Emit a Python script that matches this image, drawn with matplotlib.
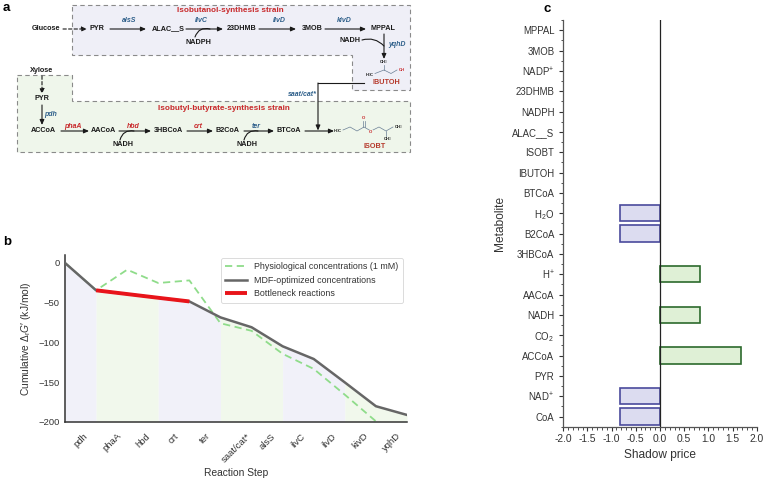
import numpy as np
import matplotlib
matplotlib.use('Agg')
import matplotlib.pyplot as plt
from matplotlib.patches import Polygon
from matplotlib.ticker import FixedLocator, MultipleLocator

plt.rcParams['font.family'] = ['Liberation Sans', 'DejaVu Sans']
plt.rcParams['mathtext.fontset'] = 'custom'
plt.rcParams['mathtext.rm'] = 'Liberation Sans'
plt.rcParams['mathtext.it'] = 'Liberation Sans:italic'
plt.rcParams['axes.unicode_minus'] = True

# --- panel b data ---
steps = ['pdh', 'phaA', 'hbd', 'crt', 'ter', 'saat/cat*', 'alsS', 'ilvC', 'ilvD', 'kivD', 'yqhD']
mdf_cum = [0, -34.5, -39.2, -43.9, -48.5, -68.6, -81.0, -105.0, -121.0, -150.5, -180.5, -191.5]
phys_cum = [0, -34.5, -8.5, -25.3, -22.0, -76.0, -85.5, -114.5, -133.5, -166.0, -199.5, -214.0]
bottleneck = ['phaA', 'hbd', 'crt']
band_edges = [0, 1, 3, 5, 7, 9, 11]

# --- panel c data ---
metabolites = ['MPPAL', '3MOB', 'NADP$^{+}$', '23DHMB', 'NADPH', 'ALAC__S', 'ISOBT', 'IBUTOH',
               'BTCoA', 'H$_2$O', 'B2CoA', '3HBCoA', 'H$^{+}$', 'AACoA', 'NADH', 'CO$_2$',
               'ACCoA', 'PYR', 'NAD$^{+}$', 'CoA']
shadow_price = [0, 0, 0, 0, 0, 0, 0, 0, 0, -0.833, -0.833, 0, 0.833, 0, 0.833, 0,
                1.667, 0, -0.833, -0.833]
price_ticks = [-2.0, -1.5, -1.0, -0.5, 0.0, 0.5, 1.0, 1.5, 2.0]

W, H = 764, 478
fig = plt.figure(figsize=(W / 100, H / 100), dpi=100)

RED = '#c8282a'
BLUE = '#2e5f8a'
DARK = '#333333'

# ================= panel a : pathway sketch =================
ax_a = fig.add_axes([0, 1 - 160 / H, 420 / W, 160 / H])
ax_a.set_xlim(0, 420)
ax_a.set_ylim(160, 0)
ax_a.axis('off')

top_box = Polygon([(72, 5), (410, 5), (410, 90), (352, 90), (352, 55), (72, 55)],
                  closed=True, facecolor='#efeff7', edgecolor='#8a8a8a', lw=0.8, ls=(0, (4, 3)))
low_box = Polygon([(17, 75), (72, 75), (72, 101), (410, 101), (410, 152), (17, 152)],
                  closed=True, facecolor='#eff6eb', edgecolor='#8a8a8a', lw=0.8, ls=(0, (4, 3)))
ax_a.add_patch(top_box)
ax_a.add_patch(low_box)


def met(x, y, s, color='#1a1a1a', size=5.2):
    ax_a.text(x, y, s, ha='center', va='center', fontsize=size, fontweight='bold', color=color)


def gene(x, y, s, color=BLUE):
    ax_a.text(x, y, s, ha='center', va='center', fontsize=5.0, style='italic',
              fontweight='bold', color=color)


def arrow(x0, y0, x1, y1, ls='-'):
    ax_a.annotate('', xy=(x1, y1), xytext=(x0, y0),
                  arrowprops=dict(arrowstyle='-|>,head_length=0.5,head_width=0.22',
                                  color='#1a1a1a', lw=0.8, ls=ls, shrinkA=0, shrinkB=0,
                                  mutation_scale=6))


def cofactor(x0, y0, x1, y1, rad=0.45):
    ax_a.annotate('', xy=(x1, y1), xytext=(x0, y0),
                  arrowprops=dict(arrowstyle='-', color='#1a1a1a', lw=0.8, shrinkA=0,
                                  shrinkB=0, connectionstyle='arc3,rad=%s' % rad))


ax_a.text(3, 8, 'a', fontsize=9.5, fontweight='bold', ha='left', va='center')
ax_a.text(230, 11, 'Isobutanol-synthesis strain', fontsize=5.9, fontweight='bold', color=RED,
          ha='center', va='center')
ax_a.text(224, 108, 'Isobutyl-butyrate-synthesis strain', fontsize=5.9, fontweight='bold',
          color=RED, ha='center', va='center')

# row 1
y1 = 29
met(46, y1, 'Glucose')
arrow(63, y1, 87, y1, ls=(0, (3, 2)))
met(97, y1, 'PYR')
arrow(110, y1, 146, y1)
gene(129, 21, 'alsS')
met(168, y1, 'ALAC__S')
arrow(186, y1, 223, y1)
gene(201, 21, 'ilvC')
cofactor(195, 37, 210, y1, rad=-0.45)
met(198, 42, 'NADPH')
met(242, y1, '23DHMB')
arrow(259, y1, 296, y1)
gene(279, 21, 'ilvD')
met(312, y1, '3MOB')
arrow(325, y1, 366, y1)
gene(344, 21, 'kivD')
met(383, y1, 'MPPAL')
arrow(384, 34, 384, 59)
cofactor(362, 40, 384, 46, rad=-0.3)
met(350, 40, 'NADH')
gene(397, 44, 'yqhD')

# isobutanol structure
mol = '#6a7f95'
ax_a.plot([384, 384], [65, 70], color=mol, lw=0.5)
ax_a.plot([375, 384, 391, 397], [73.5, 70, 73.5, 70], color=mol, lw=0.5)
met(384, 62.5, 'CH$_3$', size=3)
met(370, 75, 'H$_3$C', size=3)
ax_a.text(399, 70, 'OH', fontsize=3, fontweight='bold', color=RED, ha='left', va='center')
met(386, 83, 'IBUTOH', color='#b5382a')

# ester feed
ax_a.plot([364, 318], [83, 83], color='#1a1a1a', lw=0.8)
arrow(318, 83, 318, 130.5)
gene(302, 94, 'saat/cat*')

# xylose branch
met(42, 71, 'Xylose')
arrow(42, 76, 42, 94, ls=(0, (3, 2)))
met(42, 99, 'PYR')
arrow(42, 105, 42, 125)
gene(51, 114, 'pdh')

# row 2
y2 = 131
met(43, y2, 'ACCoA')
arrow(61, y2, 89, y2)
gene(73, 126, 'phaA', RED)
met(103, y2, 'AACoA')
arrow(119, y2, 151, y2)
gene(133, 126, 'hbd', RED)
cofactor(120, 140, 134, y2, rad=-0.45)
met(123, 144.5, 'NADH')
met(168, y2, '3HBCoA')
arrow(187, y2, 213, y2)
gene(198, 126, 'crt', RED)
met(228, y2, 'B2CoA')
arrow(244, y2, 274, y2)
gene(256, 126, 'ter')
cofactor(244, 140, 258, y2, rad=-0.45)
met(247, 144.5, 'NADH')
met(289, y2, 'BTCoA')
arrow(305, y2, 334, y2)

# isobutyl butyrate structure
xs = [343, 350, 357, 364, 371, 379, 386, 393]
ys = [130, 127, 131, 127, 131, 127, 131, 127]
ax_a.plot(xs, ys, color=mol, lw=0.5)
ax_a.plot([386, 386], [131, 136], color=mol, lw=0.5)
ax_a.plot([363.4, 363.4], [127, 121], color=mol, lw=0.5)
ax_a.plot([364.6, 364.6], [127, 121], color=mol, lw=0.5)
met(338, 131, 'H$_3$C', size=3)
ax_a.text(364, 118, 'O', fontsize=3.2, fontweight='bold', color=RED, ha='center', va='center')
ax_a.text(371, 132, 'O', fontsize=3.2, fontweight='bold', color=RED, ha='center', va='center',
          bbox=dict(facecolor='#eff6eb', edgecolor='none', pad=0.2))
met(399, 127, 'CH$_3$', size=3)
met(388, 139, 'CH$_3$', size=3)
met(375, 147, 'ISOBT', color='#b5382a')

# ================= panel b : cumulative dG =================
ax_b = fig.add_axes([65 / W, 1 - 421.7 / H, (407 - 65) / W, (421.7 - 255) / H])
x = np.arange(len(mdf_cum))
mdf = np.array(mdf_cum)
band_colors = ['#f1f1f9', '#f1f8ec']
for k in range(len(band_edges) - 1):
    a, b = band_edges[k], band_edges[k + 1]
    seg = slice(a, b + 1)
    ax_b.fill_between(x[seg], mdf[seg], -200, color=band_colors[k % 2], lw=0, zorder=0)

ax_b.plot(x, phys_cum, color='#8fdc8a', lw=1.3, ls=(0, (4, 2.5)), zorder=2,
          label='Physiological concentrations (1 mM)')
ax_b.plot(x, mdf_cum, color='#666666', lw=1.8, zorder=3, label='MDF-optimized concentrations')
bi = [steps.index(s) for s in bottleneck]
bx = x[bi[0]:bi[-1] + 2]
ax_b.plot(bx, mdf[bi[0]:bi[-1] + 2], color='#e8141a', lw=2.8, zorder=4,
          solid_capstyle='butt', label='Bottleneck reactions')

ax_b.set_xlim(0, len(steps))
ax_b.set_ylim(-200, 10)
ax_b.set_yticks([0, -50, -100, -150, -200])
ax_b.set_xticks(np.arange(len(steps)) + 0.5)
ax_b.set_xticklabels(steps, rotation=45, ha='center')
ax_b.tick_params(axis='both', length=0, labelsize=6.8, colors=DARK, pad=4)
ax_b.tick_params(axis='x', pad=7)
for s in ['top', 'right']:
    ax_b.spines[s].set_visible(False)
for s in ['left', 'bottom']:
    ax_b.spines[s].set_color(DARK)
    ax_b.spines[s].set_linewidth(1.1)
ax_b.set_xlabel('Reaction Step', fontsize=7.4, color=DARK, labelpad=3)
ax_b.set_ylabel("Cumulative $\\Delta_\\mathrm{r}G$′ (kJ/mol)", fontsize=7.4, color=DARK,
                labelpad=4)
leg = ax_b.legend(loc='upper right', fontsize=6.4, frameon=True, fancybox=True,
                  borderpad=0.5, handlelength=2.4, labelspacing=0.5,
                  bbox_to_anchor=(1.0, 1.01))
leg.get_frame().set_edgecolor('#cccccc')
leg.get_frame().set_linewidth(0.6)
for t in leg.get_texts():
    t.set_color(DARK)
fig.text(3 / W, 1 - 242 / H, 'b', fontsize=9.5, fontweight='bold', ha='left', va='center')

# ================= panel c : shadow prices =================
ax_c = fig.add_axes([563.3 / W, 1 - 426.7 / H, (756.7 - 563.3) / W, (426.7 - 20) / H])
ypos = np.arange(len(metabolites))
vals = np.array(shadow_price)
for yy, v in zip(ypos, vals):
    if v == 0:
        continue
    if v < 0:
        fc, ec = '#dcdcf0', '#4a4a9c'
    else:
        fc, ec = '#dff0d6', '#2c6a2c'
    ax_c.barh(yy, v, height=0.8, color=fc, edgecolor=ec, linewidth=1.2, zorder=2)
ax_c.axvline(0, color='#222222', lw=0.9, zorder=3)
ax_c.set_ylim(len(metabolites) - 0.5, -0.5)
ax_c.set_xlim(-2.0, 2.0)
ax_c.set_yticks(ypos)
ax_c.set_yticklabels(metabolites)
ax_c.yaxis.set_minor_locator(FixedLocator(np.arange(len(metabolites) + 1) - 0.5))
ax_c.set_xticks(price_ticks)
ax_c.set_xticklabels(['%.1f' % t for t in price_ticks])
ax_c.xaxis.set_minor_locator(MultipleLocator(0.1))
ax_c.tick_params(axis='both', which='major', direction='out', length=3, width=0.8,
                 colors=DARK, labelsize=6.9)
ax_c.tick_params(axis='x', which='major', labelsize=7.4, pad=2)
ax_c.tick_params(axis='both', which='minor', direction='out', length=1.8, width=0.6,
                 colors=DARK)
for s in ['top', 'right']:
    ax_c.spines[s].set_visible(False)
for s in ['left', 'bottom']:
    ax_c.spines[s].set_color('#555555')
    ax_c.spines[s].set_linewidth(0.9)
ax_c.set_xlabel('Shadow price', fontsize=8.6, color=DARK, labelpad=4)
ax_c.set_ylabel('Metabolite', fontsize=8.6, color=DARK, labelpad=4)
fig.text(543 / W, 1 - 9 / H, 'c', fontsize=9.5, fontweight='bold', ha='left', va='center')

fig.savefig('out.png', dpi=100)
